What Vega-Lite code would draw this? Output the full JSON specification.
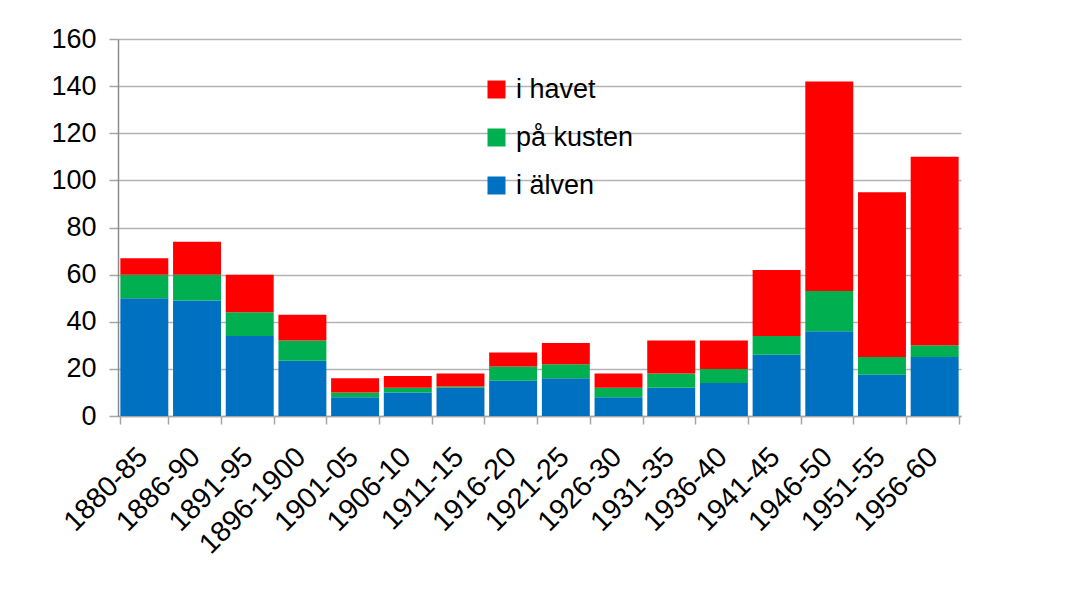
{
  "$schema": "https://vega.github.io/schema/vega-lite/v6.json",
  "width": 843,
  "height": 377,
  "autosize": {"type": "none"},
  "padding": {"left": 118, "top": 39, "right": 119, "bottom": 176},
  "background": "white",
  "config": {
    "view": {"stroke": null},
    "font": "Liberation Sans"
  },
  "data": {
    "values": [
      {"period": "1880-85", "typ": "i älven", "antal": 50},
      {"period": "1880-85", "typ": "på kusten", "antal": 10},
      {"period": "1880-85", "typ": "i havet", "antal": 7},
      {"period": "1886-90", "typ": "i älven", "antal": 49},
      {"period": "1886-90", "typ": "på kusten", "antal": 11},
      {"period": "1886-90", "typ": "i havet", "antal": 14},
      {"period": "1891-95", "typ": "i älven", "antal": 34},
      {"period": "1891-95", "typ": "på kusten", "antal": 10},
      {"period": "1891-95", "typ": "i havet", "antal": 16},
      {"period": "1896-1900", "typ": "i älven", "antal": 23.5},
      {"period": "1896-1900", "typ": "på kusten", "antal": 8.5},
      {"period": "1896-1900", "typ": "i havet", "antal": 11},
      {"period": "1901-05", "typ": "i älven", "antal": 8},
      {"period": "1901-05", "typ": "på kusten", "antal": 2},
      {"period": "1901-05", "typ": "i havet", "antal": 6},
      {"period": "1906-10", "typ": "i älven", "antal": 10},
      {"period": "1906-10", "typ": "på kusten", "antal": 2},
      {"period": "1906-10", "typ": "i havet", "antal": 5},
      {"period": "1911-15", "typ": "i älven", "antal": 12},
      {"period": "1911-15", "typ": "på kusten", "antal": 0.5},
      {"period": "1911-15", "typ": "i havet", "antal": 5.5},
      {"period": "1916-20", "typ": "i älven", "antal": 15},
      {"period": "1916-20", "typ": "på kusten", "antal": 6},
      {"period": "1916-20", "typ": "i havet", "antal": 6},
      {"period": "1921-25", "typ": "i älven", "antal": 16},
      {"period": "1921-25", "typ": "på kusten", "antal": 6},
      {"period": "1921-25", "typ": "i havet", "antal": 9},
      {"period": "1926-30", "typ": "i älven", "antal": 8},
      {"period": "1926-30", "typ": "på kusten", "antal": 4},
      {"period": "1926-30", "typ": "i havet", "antal": 6},
      {"period": "1931-35", "typ": "i älven", "antal": 12},
      {"period": "1931-35", "typ": "på kusten", "antal": 6},
      {"period": "1931-35", "typ": "i havet", "antal": 14},
      {"period": "1936-40", "typ": "i älven", "antal": 14},
      {"period": "1936-40", "typ": "på kusten", "antal": 6},
      {"period": "1936-40", "typ": "i havet", "antal": 12},
      {"period": "1941-45", "typ": "i älven", "antal": 26},
      {"period": "1941-45", "typ": "på kusten", "antal": 8},
      {"period": "1941-45", "typ": "i havet", "antal": 28},
      {"period": "1946-50", "typ": "i älven", "antal": 36},
      {"period": "1946-50", "typ": "på kusten", "antal": 17},
      {"period": "1946-50", "typ": "i havet", "antal": 89},
      {"period": "1951-55", "typ": "i älven", "antal": 17.5},
      {"period": "1951-55", "typ": "på kusten", "antal": 7.5},
      {"period": "1951-55", "typ": "i havet", "antal": 70},
      {"period": "1956-60", "typ": "i älven", "antal": 25},
      {"period": "1956-60", "typ": "på kusten", "antal": 5},
      {"period": "1956-60", "typ": "i havet", "antal": 80}
    ]
  },
  "transform": [
    {"calculate": "indexof(['i älven','på kusten','i havet'], datum.typ)", "as": "stackorder"}
  ],
  "mark": {"type": "bar"},
  "encoding": {
    "x": {
      "field": "period",
      "type": "nominal",
      "sort": null,
      "scale": {"paddingInner": 0.09, "paddingOuter": 0.045},
      "axis": {
        "title": null,
        "labelAngle": -45,
        "labelFontSize": 28.5,
        "labelColor": "#000000",
        "labelFont": "Liberation Sans",
        "tickBand": "extent",
        "tickSize": 8,
        "tickColor": "#a6a6a6",
        "tickWidth": 1.5,
        "domainColor": "#a6a6a6",
        "domainWidth": 1.5,
        "labelPadding": 18,
        "labelOffset": -12
      }
    },
    "y": {
      "field": "antal",
      "type": "quantitative",
      "stack": "zero",
      "scale": {"domain": [0, 160], "nice": false},
      "axis": {
        "title": null,
        "values": [0, 20, 40, 60, 80, 100, 120, 140, 160],
        "labelFontSize": 27,
        "labelColor": "#000000",
        "labelFont": "Liberation Sans",
        "labelPadding": 13,
        "tickSize": 9,
        "tickColor": "#a6a6a6",
        "tickWidth": 1.5,
        "domainColor": "#8c8c8c",
        "domainWidth": 1.5,
        "gridColor": "#b3b3b3",
        "gridWidth": 1.5
      }
    },
    "color": {
      "field": "typ",
      "type": "nominal",
      "scale": {
        "domain": ["i havet", "på kusten", "i älven"],
        "range": ["#ff0000", "#00b050", "#0070c0"]
      },
      "legend": {
        "title": null,
        "orient": "none",
        "legendX": 365,
        "legendY": 37,
        "symbolType": "square",
        "symbolSize": 324,
        "symbolStrokeWidth": 0,
        "symbolOpacity": 1,
        "labelFontSize": 27,
        "labelFont": "Liberation Sans",
        "labelColor": "#000000",
        "labelOffset": 6,
        "rowPadding": 20
      }
    },
    "order": {"field": "stackorder", "type": "quantitative"}
  }
}
